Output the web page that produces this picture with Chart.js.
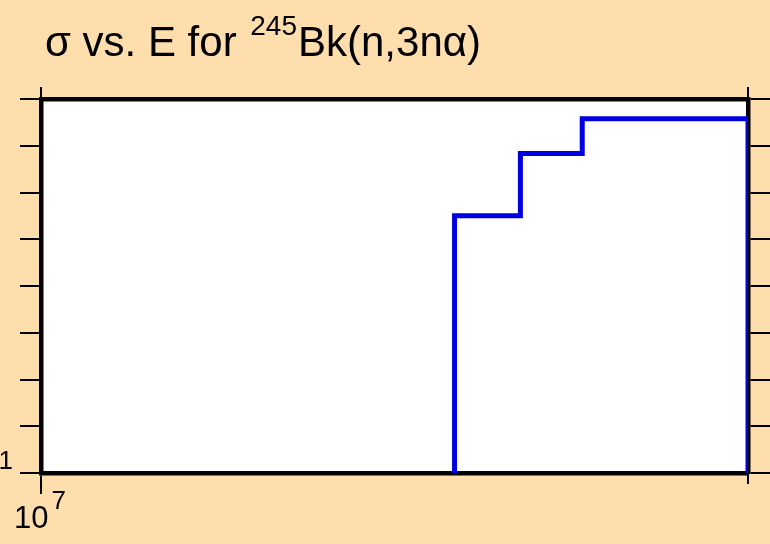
<!DOCTYPE html>
<html>
<head>
<meta charset="utf-8">
<script src="https://cdn.jsdelivr.net/npm/chart.js@4.4.1/dist/chart.umd.min.js"></script>
<style>
  html, body { margin: 0; padding: 0; background: #FFDEAD; }
  canvas { display: block; }
</style>
</head>
<body>
<canvas id="c" width="770" height="544"></canvas>
<script>
// ---- data ----
const energyEdges = [1.5e7, 1.6e7, 1.7e7, 2.0e7];   // bin edges (eV)
const sigmaValues = [3.2e4, 6.8e5, 3.8e6];          // value in each bin
const yFloor = 1e-1;                                 // axis minimum
const yMax = 1e7;
const xMin = 1e7;
const xMax = 2e7;
const xTickValues = [1e7, 2e7];
const xMajorTicks = [1e7];
const yTickValues = [1e-1, 1e0, 1e1, 1e2, 1e3, 1e4, 1e5, 1e6, 1e7];
const titleMain = 'σ vs. E for ';
const titleSup = '245';
const titleRest = 'Bk(n,3nα)';
const xLabelBase = '10', xLabelExp = '7';
const yLabelBase = '10', yLabelExp = '\u22121';

// build the step outline from the arrays
const stepPoints = [{ x: energyEdges[0], y: yFloor }];
for (let i = 0; i < sigmaValues.length; i++) {
  stepPoints.push({ x: energyEdges[i], y: sigmaValues[i] });
  stepPoints.push({ x: energyEdges[i + 1], y: sigmaValues[i] });
}
stepPoints.push({ x: energyEdges[energyEdges.length - 1], y: yFloor });

const BG = '#FFDEAD';
const FONT = '"Liberation Sans", Arial, Helvetica, sans-serif';

const decorPlugin = {
  id: 'decor',
  beforeDraw(chart) {
    const { ctx, chartArea: a } = chart;
    ctx.save();
    ctx.fillStyle = BG;
    ctx.fillRect(0, 0, chart.width, chart.height);
    ctx.fillStyle = '#fff';
    ctx.fillRect(a.left, a.top, a.right - a.left, a.bottom - a.top);
    ctx.restore();
  },
  afterDraw(chart) {
    const { ctx, chartArea: a } = chart;
    const xs = chart.scales.x, ys = chart.scales.y;
    ctx.save();
    ctx.fillStyle = '#000';
    ctx.textBaseline = 'alphabetic';
    // title
    let x = 45;
    ctx.font = '42px ' + FONT;
    ctx.fillText(titleMain, x, 56);
    x += ctx.measureText(titleMain).width + 2;
    ctx.font = '28px ' + FONT;
    ctx.fillText(titleSup, x, 35);
    x += ctx.measureText(titleSup).width + 1;
    ctx.font = '42px ' + FONT;
    ctx.fillText(titleRest, x, 56);

    // minor x ticks (short) at bottom
    ctx.strokeStyle = '#000';
    ctx.lineWidth = 2;
    xTickValues.forEach(v => {
      if (xMajorTicks.includes(v)) return;
      const px = Math.round(xs.getPixelForValue(v));
      ctx.beginPath();
      ctx.moveTo(px, a.bottom);
      ctx.lineTo(px, a.bottom + 11);
      ctx.stroke();
    });

    // x tick label 10^7
    xMajorTicks.forEach(v => {
      const px = xs.getPixelForValue(v);
      ctx.font = '31px ' + FONT;
      const wb = ctx.measureText(xLabelBase).width;
      const sx = px - 27;
      ctx.fillText(xLabelBase, sx, 528);
      ctx.font = '26px ' + FONT;
      ctx.fillText(xLabelExp, sx + wb + 3, 509);
    });

    // y tick label at the bottom (10^-1), right-aligned off the left edge
    const py = ys.getPixelForValue(yFloor);
    ctx.font = '26px ' + FONT;
    const we = ctx.measureText(yLabelExp).width;
    const expX = 13 - we;
    ctx.fillText(yLabelExp, expX, py - 4);
    ctx.font = '31px ' + FONT;
    const wb2 = ctx.measureText(yLabelBase).width;
    ctx.fillText(yLabelBase, expX - 3 - wb2, py + 15);
    ctx.restore();
  }
};

const gridCommon = { drawOnChartArea: false, drawTicks: true, color: '#000', lineWidth: 2 };
const borderCommon = { display: true, color: '#000', width: 4.5 };

new Chart(document.getElementById('c'), {
  type: 'line',
  data: {
    datasets: [{
      data: stepPoints,
      borderColor: '#0000E0',
      borderWidth: 5,
      pointRadius: 0,
      fill: false,
      tension: 0,
      clip: 0
    }]
  },
  options: {
    responsive: false,
    devicePixelRatio: 1,
    animation: false,
    layout: { padding: 0 },
    plugins: { legend: { display: false }, title: { display: false }, tooltip: { enabled: false } },
    scales: {
      x: {
        type: 'logarithmic', position: 'bottom', min: xMin, max: xMax,
        afterBuildTicks: s => { s.ticks = xTickValues.map(v => ({ value: v })); },
        afterFit: s => { s.height = 71; },
        grid: Object.assign({}, gridCommon, {
          tickLength: 21,
          tickColor: c => (c.tick && !xMajorTicks.includes(c.tick.value)) ? 'rgba(0,0,0,0)' : '#000'
        }),
        border: borderCommon,
        ticks: { display: false }
      },
      xTop: {
        type: 'logarithmic', position: 'top', min: xMin, max: xMax,
        afterBuildTicks: s => { s.ticks = xTickValues.map(v => ({ value: v })); },
        afterFit: s => { s.height = 99; },
        grid: Object.assign({}, gridCommon, { tickLength: 12 }),
        border: borderCommon,
        ticks: { display: false }
      },
      y: {
        type: 'logarithmic', position: 'left', min: yFloor, max: yMax,
        afterBuildTicks: s => { s.ticks = yTickValues.map(v => ({ value: v })); },
        afterFit: s => { s.width = 41; },
        grid: Object.assign({}, gridCommon, { tickLength: 21 }),
        border: borderCommon,
        ticks: { display: false }
      },
      yRight: {
        type: 'logarithmic', position: 'right', min: yFloor, max: yMax,
        afterBuildTicks: s => { s.ticks = yTickValues.map(v => ({ value: v })); },
        afterFit: s => { s.width = 22; },
        grid: Object.assign({}, gridCommon, { tickLength: 22 }),
        border: borderCommon,
        ticks: { display: false }
      }
    }
  },
  plugins: [decorPlugin]
});
</script>
</body>
</html>
